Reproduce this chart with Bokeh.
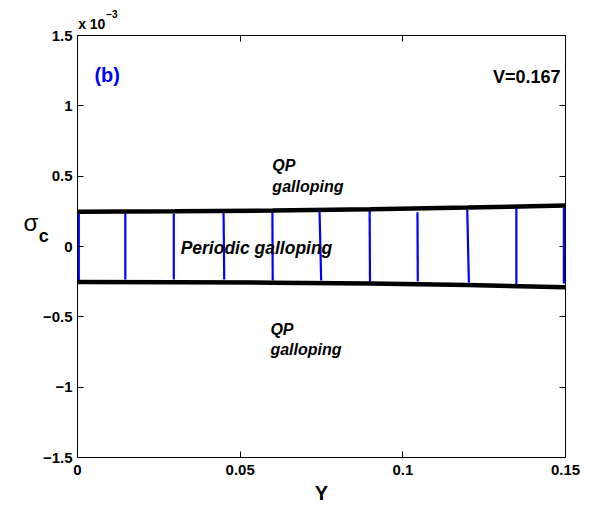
from bokeh.plotting import figure
from bokeh.models import (Range1d, FixedTicker, CustomJSTickFormatter, LinearAxis,
                          Label, ColumnDataSource)
from bokeh.embed import file_html
from bokeh.resources import INLINE

SCALE = 1e-3  # sigma values below are given in units of 10^-3

# Boundaries of the periodic-galloping region (black thick lines)
Y_boundary = [0.0, 0.03, 0.06, 0.09, 0.12, 0.15]
sigma_upper = [0.247, 0.250, 0.256, 0.264, 0.277, 0.291]
sigma_lower = [-0.252, -0.254, -0.257, -0.263, -0.274, -0.289]

# Blue vertical segments (computed periodic galloping range)
Y_blue_top = [0.0004, 0.0147, 0.0296, 0.0449, 0.0599, 0.0744, 0.0898, 0.1045, 0.1198, 0.1349, 0.1495]
Y_blue_bot = [0.0004, 0.0147, 0.0296, 0.0451, 0.0600, 0.0749, 0.0899, 0.1046, 0.1203, 0.1349, 0.1495]
sigma_blue_top = [0.235, 0.235, 0.235, 0.242, 0.249, 0.251, 0.256, 0.244, 0.263, 0.284, 0.277]
sigma_blue_bot = [-0.242, -0.235, -0.235, -0.235, -0.242, -0.242, -0.249, -0.249, -0.256, -0.270, -0.263]

x_ticks = [0, 0.05, 0.1, 0.15]
y_ticks = [-1.5, -1.0, -0.5, 0.0, 0.5, 1.0, 1.5]

FONT = "Liberation Sans"

# Geometry: axes box in pixels inside the 593x505 canvas
W, H = 593, 505
BOX_L, BOX_R, BOX_T, BOX_B = 77, 565, 35, 457
x_lo, x_hi = 0.0, 0.15
y_lo, y_hi = -1.5 * SCALE, 1.5 * SCALE
dx = (x_hi - x_lo) / (BOX_R - BOX_L)
dy = (y_hi - y_lo) / (BOX_B - BOX_T)

p = figure(width=W, height=H, output_backend="svg", toolbar_location=None,
           x_range=Range1d(x_lo - BOX_L * dx, x_hi + (W - BOX_R) * dx),
           y_range=Range1d(y_lo - (H - BOX_B) * dy, y_hi + BOX_T * dy),
           min_border=0, min_border_left=0, min_border_right=0,
           min_border_top=0, min_border_bottom=0)
p.background_fill_color = "white"
p.border_fill_color = "white"
p.outline_line_color = None
p.xgrid.visible = False
p.ygrid.visible = False

# blue segments
blue_src = ColumnDataSource(dict(
    x0=Y_blue_top, y0=[v * SCALE for v in sigma_blue_top],
    x1=Y_blue_bot, y1=[v * SCALE for v in sigma_blue_bot]))
p.segment(x0="x0", y0="y0", x1="x1", y1="y1", source=blue_src,
          line_color="#0000FF", line_width=2.2)

# black boundaries
p.line(Y_boundary, [v * SCALE for v in sigma_upper], line_color="black", line_width=4.5)
p.line(Y_boundary, [v * SCALE for v in sigma_lower], line_color="black", line_width=4.5)

xfmt = CustomJSTickFormatter(code="return String(Math.round(tick*100)/100);")
yfmt = CustomJSTickFormatter(code="""
const v = Math.round(tick*1e4)/10;
if (Math.abs(v) < 1e-9) return "0";
return v < 0 ? "\u2212" + String(-v) : String(v);
""")

def style_axis(ax, show_labels):
    ax.axis_line_color = "black"
    ax.axis_line_width = 1
    ax.major_tick_in = 6
    ax.major_tick_out = 0
    ax.major_tick_line_color = "black"
    ax.minor_tick_line_color = None
    ax.major_label_text_font = FONT
    ax.major_label_text_font_style = "bold"
    ax.major_label_text_font_size = "15px"
    if show_labels:
        ax.major_label_text_color = "black"
    else:
        ax.major_label_text_color = None

xax = p.xaxis[0]
yax = p.yaxis[0]
xax.ticker = FixedTicker(ticks=x_ticks)
xax.formatter = xfmt
xax.fixed_location = y_lo
xax.bounds = (x_lo, x_hi)
yax.ticker = FixedTicker(ticks=[v * SCALE for v in y_ticks])
yax.formatter = yfmt
yax.fixed_location = x_lo
yax.bounds = (y_lo, y_hi)
style_axis(xax, True)
style_axis(yax, True)
xax.major_label_standoff = 7
yax.major_label_standoff = 5

top_ax = LinearAxis(ticker=FixedTicker(ticks=x_ticks), formatter=xfmt,
                    fixed_location=y_hi, bounds=(x_lo, x_hi))
right_ax = LinearAxis(ticker=FixedTicker(ticks=[v * SCALE for v in y_ticks]), formatter=yfmt,
                      fixed_location=x_hi, bounds=(y_lo, y_hi))
style_axis(top_ax, False)
style_axis(right_ax, False)
p.add_layout(top_ax, "above")
p.add_layout(right_ax, "right")

def lab(x, y, text, size, style="bold", color="black", align="left", font=FONT):
    p.add_layout(Label(x=x, y=y, text=text, text_font=font, text_font_size=size,
                       text_font_style=style, text_color=color, text_align=align,
                       text_baseline="alphabetic"))

lab(0.0052, 1.216 * SCALE, "(b)", "20px", color="#0000FF")
lab(0.1485, 1.204 * SCALE, "V=0.167", "18px", align="right")
lab(0.0599, 0.576 * SCALE, "QP", "16px", style="bold italic")
lab(0.0599, 0.430 * SCALE, "galloping", "16px", style="bold italic")
lab(0.0593, -0.590 * SCALE, "QP", "16px", style="bold italic")
lab(0.0593, -0.735 * SCALE, "galloping", "16px", style="bold italic")
lab(0.0317, -0.013 * SCALE, "Periodic galloping", "17.5px", style="bold italic")

# axis titles and exponent
lab(-0.0166, 0.171 * SCALE, "σ", "24px", style="normal")
lab(-0.0119, 0.074 * SCALE, "c", "18px")
lab(0.075, -1.752 * SCALE, "Y", "20px", align="center")
lab(0.0002, 1.585 * SCALE, "x 10", "14px")
lab(0.0088, 1.655 * SCALE, "\u22123", "10px")

open("out.html", "w").write(file_html(p, INLINE))
